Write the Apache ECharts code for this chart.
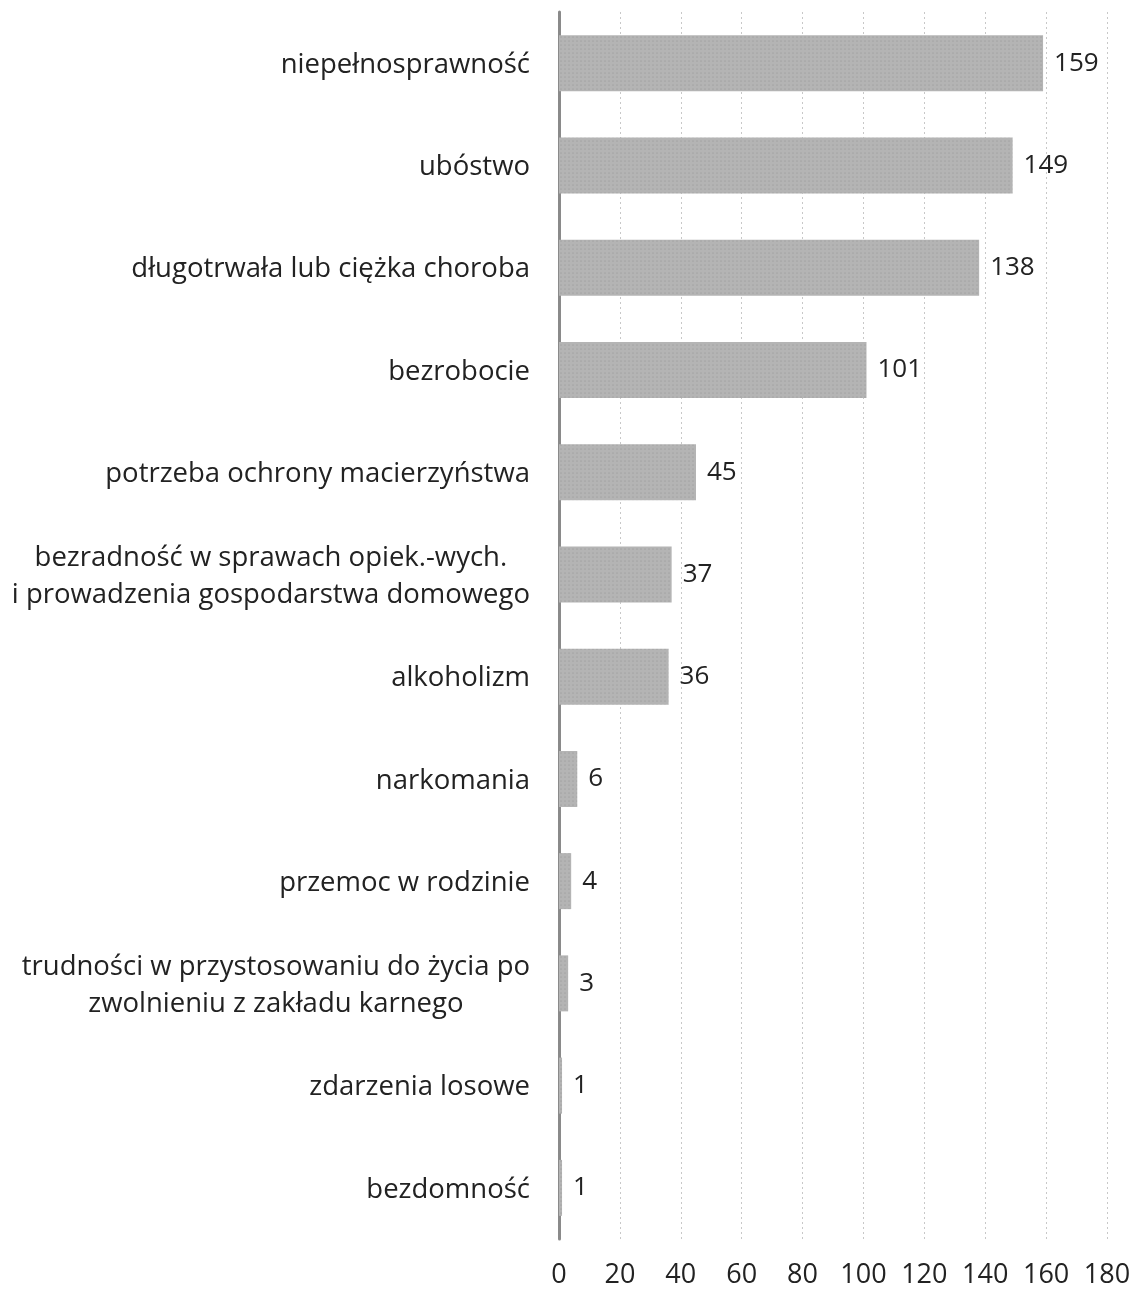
<!DOCTYPE html>
<html>
<head>
<meta charset="utf-8">
<script src="https://cdn.jsdelivr.net/npm/echarts@6/dist/echarts.min.js"></script>
<style>
  html, body { margin: 0; padding: 0; background: #fff; }
  #chartContainer { width: 1134px; height: 1289px; }
</style>
</head>
<body>
<div id="chartContainer"></div>
<script>
// categories from top to bottom
var categories = [
    'niepełnosprawność',
    'ubóstwo',
    'długotrwała lub ciężka choroba',
    'bezrobocie',
    'potrzeba ochrony macierzyństwa',
    'bezradność w sprawach opiek.-wych.\ni prowadzenia gospodarstwa domowego',
    'alkoholizm',
    'narkomania',
    'przemoc w rodzinie',
    'trudności w przystosowaniu do życia po\nzwolnieniu z zakładu karnego',
    'zdarzenia losowe',
    'bezdomność'
];
var values = [159, 149, 138, 101, 45, 37, 36, 6, 4, 3, 1, 1];
var xTicks = [0, 20, 40, 60, 80, 100, 120, 140, 160, 180];

var font = '"Open Sans", sans-serif';
var textColor = '#222';
var myChart = echarts.init(document.getElementById('chartContainer'), null, { renderer: 'canvas' });

myChart.setOption({
    animation: false,
    backgroundColor: '#fff',
    grid: { left: 559, right: 27, top: 12, bottom: 49, containLabel: false },
    xAxis: {
        type: 'value',
        min: xTicks[0],
        max: xTicks[xTicks.length - 1],
        interval: 20,
        axisLine: { show: false },
        axisTick: { show: false },
        splitLine: { show: true, lineStyle: { color: '#c8c8c8', type: [2, 3], width: 1 } },
        axisLabel: { margin: 23, color: textColor, fontSize: 27, fontFamily: font }
    },
    yAxis: {
        type: 'category',
        inverse: true,
        data: categories,
        axisLine: { show: true, lineStyle: { color: '#8a8a8a', width: 3 } },
        axisTick: { show: false },
        axisLabel: {
            margin: 29,
            color: textColor,
            fontSize: 27.5,
            fontFamily: font,
            lineHeight: 37,
            formatter: function (v) {
                return v.split('\n').map(function (s) { return '{c|' + s + '}'; }).join('\n');
            },
            rich: {
                c: { align: 'center', fontSize: 27.5, fontFamily: font, color: textColor, lineHeight: 37, padding: [4, 0, 0, 0] }
            }
        }
    },
    series: [{
        type: 'bar',
        data: values,
        barWidth: 56,
        itemStyle: {
            color: '#b4b4b4',
            decal: {
                symbol: 'circle',
                symbolSize: 0.6,
                color: 'rgba(90,90,90,0.35)',
                dashArrayX: [[2, 2]],
                dashArrayY: [2, 2],
                rotation: 0
            }
        },
        label: {
            show: true,
            position: 'right',
            distance: 11,
            color: textColor,
            fontSize: 26,
            fontFamily: font
        }
    }]
});
</script>
</body>
</html>
